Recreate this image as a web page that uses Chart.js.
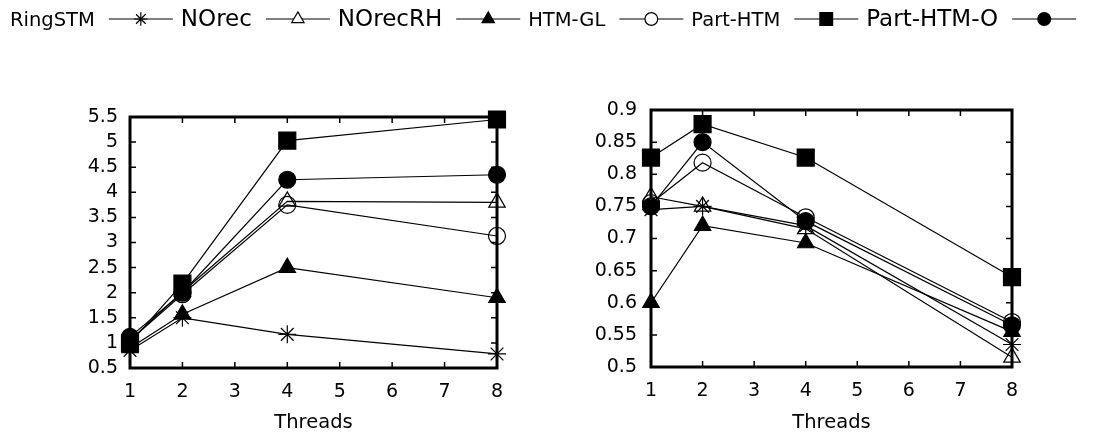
<!DOCTYPE html>
<html>
<head>
<meta charset="utf-8">
<script src="https://cdn.jsdelivr.net/npm/chart.js"></script>
<style>
    html, body { margin: 0; padding: 0; background: #fff; }
    #wrap { position: relative; width: 1102px; height: 437px; overflow: hidden; }
    .box { position: absolute; top: 0; height: 437px; width: 551px; }
    #legend { position: absolute; left: 0; top: 0; }
</style>
</head>
<body>
<div id="wrap">
    <div class="box" style="left:0"><canvas id="left-chart"></canvas></div>
    <div class="box" style="left:551px"><canvas id="right-chart"></canvas></div>
    <canvas id="legend" width="1102" height="40"></canvas>
</div>
<script>
const threads = [1, 2, 4, 8];
const xTicks = [1, 2, 3, 4, 5, 6, 7, 8];
const leftYTicks = [0.5, 1, 1.5, 2, 2.5, 3, 3.5, 4, 4.5, 5, 5.5];
const rightYTicks = [0.5, 0.55, 0.6, 0.65, 0.7, 0.75, 0.8, 0.85, 0.9];
const seriesNames = ['RingSTM', 'NOrec', 'NOrecRH', 'HTM-GL', 'Part-HTM', 'Part-HTM-O'];

// left panel
const leftRingSTM = [0.85, 1.5, 1.17, 0.78];
const leftNOrec = [1.05, 2.02, 3.82, 3.8];
const leftNOrecRH = [0.9, 1.57, 2.5, 1.9];
const leftHTMGL = [1.05, 1.97, 3.75, 3.13];
const leftPartHTM = [1.0, 2.18, 5.03, 5.45];
const leftPartHTMO = [1.12, 2.0, 4.25, 4.35];

// right panel
const rightRingSTM = [0.745, 0.75, 0.72, 0.535];
const rightNOrec = [0.765, 0.75, 0.715, 0.515];
const rightNOrecRH = [0.6, 0.72, 0.693, 0.555];
const rightHTMGL = [0.755, 0.818, 0.733, 0.57];
const rightPartHTM = [0.826, 0.878, 0.826, 0.64];
const rightPartHTMO = [0.75, 0.85, 0.727, 0.565];

const FONT = 'DejaVu Sans';

// marker look per series (same order as seriesNames)
const markers = [
    { style: 'star', filled: false, r: 9 },
    { style: 'triangle', filled: false, r: 9.5 },
    { style: 'triangle', filled: true, r: 9.5 },
    { style: 'circle', filled: false, r: 8.5 },
    { style: 'rect', filled: true, r: 12 },
    { style: 'circle', filled: true, r: 8.5 }
];
const legendFontSizes = [19.5, 23, 23, 19.5, 19.5, 23];

// gnuplot-like frame with inward ticks on all four sides
const framePlugin = {
    id: 'frame',
    beforeDatasetsDraw(chart) {
        const { ctx, chartArea: a, scales } = chart;
        ctx.save();
        ctx.strokeStyle = '#000';
        ctx.lineWidth = 1.5;
        ctx.beginPath();
        scales.y.ticks.forEach(t => {
            const y = scales.y.getPixelForValue(t.value);
            ctx.moveTo(a.left, y); ctx.lineTo(a.left + 6, y);
            ctx.moveTo(a.right, y); ctx.lineTo(a.right - 6, y);
        });
        scales.x.ticks.forEach(t => {
            const x = scales.x.getPixelForValue(t.value);
            ctx.moveTo(x, a.top); ctx.lineTo(x, a.top + 6);
            ctx.moveTo(x, a.bottom); ctx.lineTo(x, a.bottom - 6);
        });
        ctx.stroke();
        ctx.lineWidth = 3;
        ctx.strokeRect(a.left, a.top, a.right - a.left, a.bottom - a.top);
        ctx.restore();
    }
};

function makeDatasets(lists) {
    return lists.map((vals, i) => ({
        label: seriesNames[i],
        data: threads.map((t, j) => ({ x: t, y: vals[j] })),
        borderColor: '#000',
        borderWidth: 1.2,
        backgroundColor: markers[i].filled ? '#000' : 'rgba(0,0,0,0)',
        pointStyle: markers[i].style,
        pointRadius: markers[i].r,
        pointBorderWidth: 1.2,
        pointBorderColor: '#000',
        pointBackgroundColor: markers[i].filled ? '#000' : 'rgba(0,0,0,0)',
        tension: 0,
        clip: false
    }));
}

function makeChart(id, lists, yTicks, cfg) {
    new Chart(document.getElementById(id), {
        type: 'line',
        data: { datasets: makeDatasets(lists) },
        options: {
            responsive: true, maintainAspectRatio: false, animation: false,
            layout: { padding: { top: cfg.top, right: cfg.right, left: 0, bottom: 0 } },
            plugins: { legend: { display: false }, tooltip: { enabled: false } },
            scales: {
                x: {
                    type: 'linear', min: 1, max: 8,
                    afterBuildTicks: s => { s.ticks = xTicks.map(v => ({ value: v })); },
                    afterFit: s => { s.height = cfg.xHeight; },
                    grid: { display: false, drawTicks: false },
                    border: { display: false },
                    ticks: { color: '#000', font: { family: FONT, size: 19 }, padding: 13,
                             autoSkip: false, maxRotation: 0 },
                    title: {
                        display: true, text: 'Threads', color: '#000',
                        font: { family: FONT, size: 19.5 }, padding: { top: 0, bottom: 2 }
                    }
                },
                y: {
                    type: 'linear', min: yTicks[0], max: yTicks[yTicks.length - 1],
                    afterBuildTicks: s => { s.ticks = yTicks.map(v => ({ value: v })); },
                    afterFit: s => { s.width = cfg.yWidth; },
                    grid: { display: false, drawTicks: false },
                    border: { display: false },
                    ticks: { color: '#000', font: { family: FONT, size: 19 }, padding: cfg.yPad,
                             autoSkip: false, callback: v => String(v) }
                }
            }
        },
        plugins: [framePlugin]
    });
}

makeChart('left-chart',
    [leftRingSTM, leftNOrec, leftNOrecRH, leftHTMGL, leftPartHTM, leftPartHTMO],
    leftYTicks, { top: 117, right: 54, xHeight: 69, yWidth: 130, yPad: 12 });

makeChart('right-chart',
    [rightRingSTM, rightNOrec, rightNOrecRH, rightHTMGL, rightPartHTM, rightPartHTMO],
    rightYTicks, { top: 110, right: 90, xHeight: 70, yWidth: 100, yPad: 14 });

// legend: label first, then line sample with marker (gnuplot key style)
function drawMarker(ctx, m, x, y, r) {
    ctx.beginPath();
    if (m.style === 'circle') {
        ctx.arc(x, y, r, 0, Math.PI * 2);
    } else if (m.style === 'rect') {
        const s = r * Math.SQRT1_2;
        ctx.rect(x - s, y - s, 2 * s, 2 * s);
    } else if (m.style === 'triangle') {
        for (let k = 0; k < 3; k++) {
            const ang = k * 2 * Math.PI / 3;
            const px = x + Math.sin(ang) * r, py = y - Math.cos(ang) * r;
            k === 0 ? ctx.moveTo(px, py) : ctx.lineTo(px, py);
        }
        ctx.closePath();
    } else if (m.style === 'star') {
        for (let k = 0; k < 4; k++) {
            const ang = k * Math.PI / 4;
            ctx.moveTo(x - Math.sin(ang) * r, y - Math.cos(ang) * r);
            ctx.lineTo(x + Math.sin(ang) * r, y + Math.cos(ang) * r);
        }
    }
    ctx.fillStyle = m.filled ? '#000' : '#fff';
    if (m.style !== 'star') ctx.fill();
    ctx.stroke();
}

function drawLegend() {
    const ctx = document.getElementById('legend').getContext('2d');
    ctx.strokeStyle = '#000';
    ctx.fillStyle = '#000';
    ctx.lineWidth = 1.2;
    let x = 10;
    const lineY = 19;
    seriesNames.forEach((name, i) => {
        ctx.font = legendFontSizes[i] + 'px "' + FONT + '"';
        ctx.fillStyle = '#000';
        ctx.textBaseline = 'alphabetic';
        ctx.fillText(name, x, 26);
        x += ctx.measureText(name).width + 14;
        const len = 64;
        ctx.beginPath();
        ctx.moveTo(x, lineY); ctx.lineTo(x + len, lineY);
        ctx.stroke();
        drawMarker(ctx, markers[i], x + len / 2, lineY, markers[i].r * 0.75);
        x += len + 8;
    });
}

if (document.fonts && document.fonts.load) {
    document.fonts.load('20px "' + FONT + '"').then(drawLegend, drawLegend);
} else {
    drawLegend();
}
</script>
</body>
</html>
